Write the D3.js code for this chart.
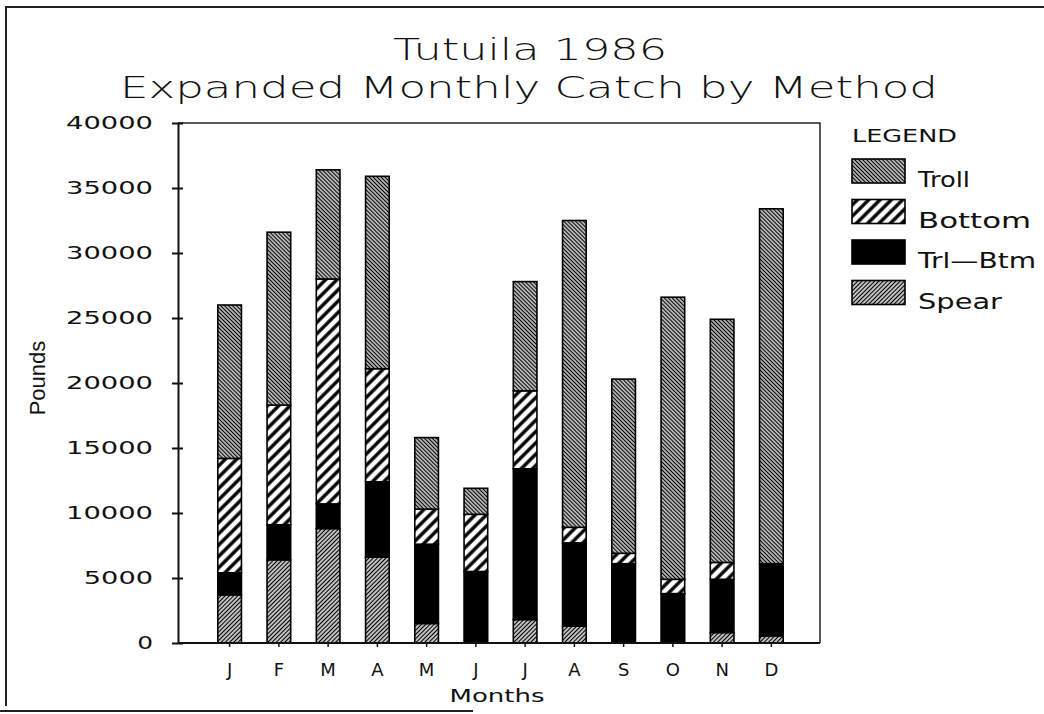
<!DOCTYPE html>
<html>
  <head>
    <script src="https://d3js.org/d3.v7.min.js"></script>
    <style>
      body { margin: 0; background: #fff; }
      text { font-family: "DejaVu Sans", sans-serif; fill: #111; }
    </style>
  </head>
  <body>
    <svg width="1044" height="714"></svg>
    <script>

      // data (pounds per month, per method)
      const months = ["J", "F", "M", "A", "M", "J", "J", "A", "S", "O", "N", "D"];
      const spear  = [3700, 6400, 8800, 6600, 1500, 0, 1800, 1300, 0, 0, 800, 550];
      const trlBtm = [1700, 2700, 1900, 5800, 6100, 5500, 11600, 6400, 6100, 3800, 4100, 5550];
      const bottom = [8800, 9200, 17300, 8700, 2700, 4400, 6000, 1200, 800, 1100, 1300, 0];
      const troll  = [11800, 13300, 8400, 14800, 5500, 2000, 8400, 23600, 13400, 21700, 18700, 27300];
      const yTicks = [0, 5000, 10000, 15000, 20000, 25000, 30000, 35000, 40000];
      const legendNames = ["Troll", "Bottom", "Trl\u2014Btm", "Spear"];

      const keys = ["spear", "trlBtm", "bottom", "troll"];   // stacking order, bottom up
      const rows = months.map((m, i) => ({
        i: i, spear: spear[i], trlBtm: trlBtm[i], bottom: bottom[i], troll: troll[i]
      }));

      const svg = d3.select("svg");

      // fill patterns
      const defs = svg.append("defs");
      function hatch(id, size, sw, angle) {
        const p = defs.append("pattern")
          .attr("id", id)
          .attr("patternUnits", "userSpaceOnUse")
          .attr("width", size).attr("height", size)
          .attr("patternTransform", `rotate(${angle})`);
        p.append("rect").attr("width", size).attr("height", size).attr("fill", "#fff");
        p.append("line")
          .attr("x1", size / 2).attr("x2", size / 2)
          .attr("y1", 0).attr("y2", size)
          .attr("stroke", "#000").attr("stroke-width", sw);
      }
      hatch("p-troll", 2.8, 1.5, -45);
      hatch("p-bottom", 8, 3.4, 45);
      hatch("p-spear", 3, 1.5, 45);
      const fills = {
        troll: "url(#p-troll)", bottom: "url(#p-bottom)", trlBtm: "#000", spear: "url(#p-spear)"
      };

      // scanned page frame
      svg.append("path")
        .attr("d", "M1044,7 L6,7 L6,706")
        .attr("fill", "none").attr("stroke", "#222").attr("stroke-width", 2);
      svg.append("line")
        .attr("x1", 0).attr("x2", 473).attr("y1", 711).attr("y2", 711)
        .attr("stroke", "#222").attr("stroke-width", 2);

      // titles
      svg.append("text")
        .attr("x", 530).attr("y", 60)
        .attr("text-anchor", "middle")
        .attr("textLength", 274).attr("lengthAdjust", "spacingAndGlyphs")
        .style("font-size", "31px").style("font-weight", 300)
        .text("Tutuila 1986");
      svg.append("text")
        .attr("x", 529).attr("y", 98)
        .attr("text-anchor", "middle")
        .attr("textLength", 818).attr("lengthAdjust", "spacingAndGlyphs")
        .style("font-size", "31px").style("font-weight", 300)
        .text("Expanded Monthly Catch by Method");

      const plotL = 178, plotR = 820, plotT = 123, plotB = 643;

      const x = d3.scaleBand()
        .domain(rows.map(d => d.i))
        .range([205, 796])
        .paddingInner(0.52)
        .paddingOuter(0.26);

      const y = d3.scaleLinear()
        .domain([0, 40000])
        .range([plotB, plotT]);

      // plot box (top and right side)
      svg.append("path")
        .attr("d", `M${plotL},${plotT} L${plotR},${plotT} L${plotR},${plotB}`)
        .attr("fill", "none").attr("stroke", "#222").attr("stroke-width", 1.5);

      // stacked bars
      const stacked = d3.stack().keys(keys)(rows);
      stacked.forEach(layer => {
        svg.append("g")
          .selectAll("rect")
          .data(layer.filter(d => d[1] > d[0]))
          .enter()
          .append("rect")
          .attr("x", d => x(d.data.i))
          .attr("y", d => y(d[1]))
          .attr("width", x.bandwidth())
          .attr("height", d => y(d[0]) - y(d[1]))
          .attr("fill", fills[layer.key])
          .attr("stroke", "#000")
          .attr("stroke-width", 1.6);
      });

      // y axis
      const yAxis = svg.append("g")
        .attr("transform", `translate(${plotL},0)`)
        .call(d3.axisLeft(y).tickValues(yTicks).tickFormat(d3.format("d"))
          .tickSize(5).tickSizeOuter(0).tickPadding(20));
      yAxis.select(".domain").attr("stroke", "#111").attr("stroke-width", 2);
      yAxis.selectAll(".tick line").attr("x1", 5).attr("x2", -6).attr("stroke", "#111").attr("stroke-width", 2);
      yAxis.selectAll(".tick text")
        .style("font-size", "18px")
        .style("font-family", "DejaVu Sans")
        .attr("fill", "#111")
        .attr("textLength", d => String(d).length * 17.8 - 2)
        .attr("lengthAdjust", "spacingAndGlyphs");

      // x axis
      const xAxis = svg.append("g")
        .attr("transform", `translate(0,${plotB})`)
        .call(d3.axisBottom(x).tickFormat(i => months[i]).tickSize(4).tickSizeOuter(0).tickPadding(16));
      xAxis.select(".domain").attr("d", `M${plotL},0H${plotR}`).attr("stroke", "#111").attr("stroke-width", 2);
      xAxis.selectAll(".tick line").attr("stroke", "#111").attr("stroke-width", 1.5);
      xAxis.selectAll(".tick text")
        .style("font-size", "18px")
        .style("font-family", "DejaVu Sans")
        .attr("fill", "#111");

      // axis titles
      svg.append("text")
        .attr("x", 497).attr("y", 702)
        .attr("text-anchor", "middle")
        .attr("textLength", 95).attr("lengthAdjust", "spacingAndGlyphs")
        .style("font-size", "18px")
        .text("Months");
      svg.append("text")
        .attr("transform", "translate(45,378) rotate(-90)")
        .attr("text-anchor", "middle")
        .style("font-family", "'Liberation Sans Narrow', 'Liberation Sans', sans-serif")
        .style("font-size", "22px")
        .text("Pounds");

      // legend
      svg.append("text")
        .attr("x", 852).attr("y", 142)
        .attr("textLength", 105).attr("lengthAdjust", "spacingAndGlyphs")
        .style("font-size", "17px")
        .text("LEGEND");
      const legendKeys = ["troll", "bottom", "trlBtm", "spear"];
      const legendLen = [52, 113, 118, 84];
      const lg = svg.append("g").selectAll("g")
        .data(legendKeys)
        .enter()
        .append("g")
        .attr("transform", (d, i) => `translate(852,${159 + i * 40.5})`);
      lg.append("rect")
        .attr("width", 53).attr("height", 24)
        .attr("fill", d => fills[d])
        .attr("stroke", "#000").attr("stroke-width", 1.6);
      lg.append("text")
        .attr("x", 66).attr("y", 28)
        .attr("textLength", (d, i) => legendLen[i]).attr("lengthAdjust", "spacingAndGlyphs")
        .style("font-size", "22px")
        .text((d, i) => legendNames[i]);

    </script>
  </body>
</html>
